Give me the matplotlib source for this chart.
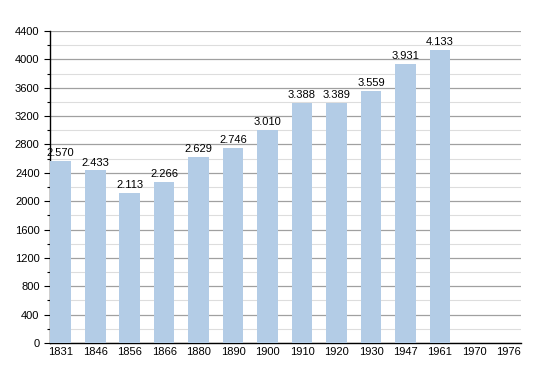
import matplotlib.pyplot as plt
from matplotlib.ticker import MultipleLocator

plt.rcParams["font.family"] = ["Liberation Sans", "DejaVu Sans"]

years = ["1831", "1846", "1856", "1866", "1880", "1890", "1900", "1910",
         "1920", "1930", "1947", "1961", "1970", "1976"]
population = [2570, 2433, 2113, 2266, 2629, 2746, 3010, 3388,
              3389, 3559, 3931, 4133]
labels = ["2.570", "2.433", "2.113", "2.266", "2.629", "2.746", "3.010",
          "3.388", "3.389", "3.559", "3.931", "4.133"]

fig = plt.figure(figsize=(5.5, 3.73), dpi=100)
ax = fig.add_axes([50 / 550, 30 / 373, 471 / 550, 312 / 373])

x = list(range(len(years)))
ax.bar(x[:len(population)], population, width=0.6, color="#b3cce6", zorder=3)
for i, (v, t) in enumerate(zip(population, labels)):
    ax.text(i, v + 40, t, ha="center", va="bottom", fontsize=8, zorder=4)

ax.set_xlim(-0.31, 13.35)
ax.set_ylim(0, 4400)
ax.set_xticks(x)
ax.set_xticklabels(years, fontsize=8)
ax.yaxis.set_major_locator(MultipleLocator(400))
ax.yaxis.set_minor_locator(MultipleLocator(200))
ax.tick_params(axis="y", labelsize=8, length=4, width=0.8)
ax.tick_params(axis="y", which="minor", length=2, width=0.8)
ax.tick_params(axis="x", length=0, pad=3)
ax.grid(axis="y", which="major", color="#a0a0a0", linewidth=0.9, zorder=0)
ax.grid(axis="y", which="minor", color="#dddddd", linewidth=0.8, zorder=0)
for s in ["top", "right"]:
    ax.spines[s].set_visible(False)
ax.spines["left"].set_linewidth(1.0)
ax.spines["bottom"].set_linewidth(1.0)

fig.savefig("out.png", dpi=100)
